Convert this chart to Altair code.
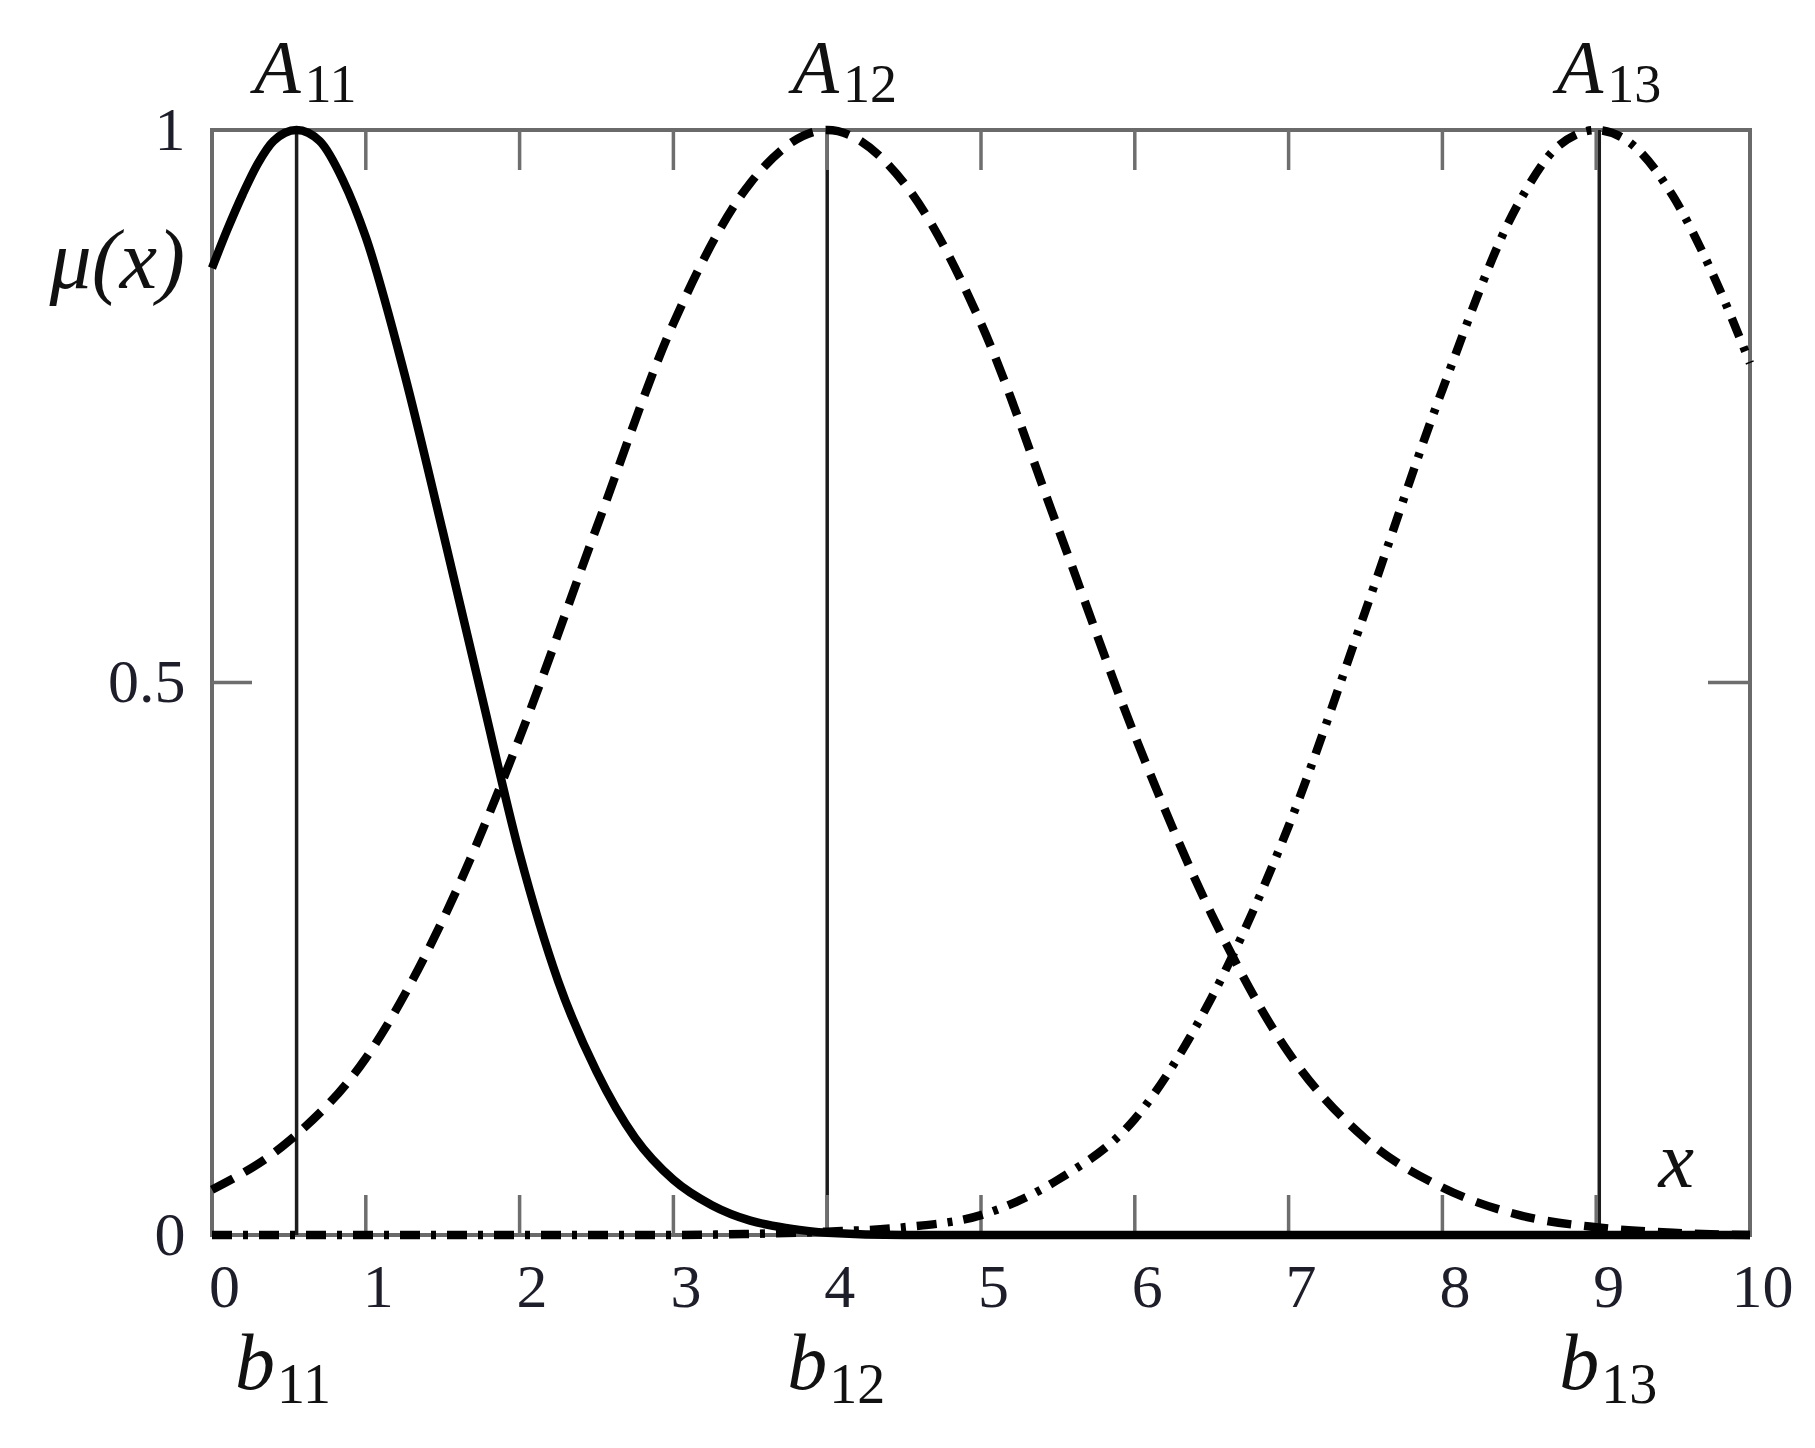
import altair as alt
import pandas as pd

# ---- data ----
a11_x = [0, 0.1, 0.2, 0.3, 0.4, 0.55, 0.7, 0.85, 1.0, 1.25, 1.5, 1.75, 2.0, 2.25, 2.5, 2.75, 3.0,
         3.25, 3.5, 3.75, 4.0, 4.5, 5, 6, 7, 8, 9, 10]
a11_mu = [0.875, 0.91, 0.942, 0.97, 0.99, 1.0, 0.99, 0.955, 0.903, 0.78, 0.637, 0.49, 0.345, 0.23, 0.148,
          0.088, 0.05, 0.027, 0.013, 0.006, 0.002, 0.0, 0, 0, 0, 0, 0, 0]

a12_x = [0, 0.5, 1.0, 1.5, 2.0, 2.5, 3.0, 3.5, 4.0, 4.5, 5.0, 5.5, 6.0, 6.5, 7.0, 7.5, 8.0, 8.5, 9.0,
         9.5, 10]
a12_mu = [0.041, 0.085, 0.16, 0.285, 0.45, 0.64, 0.825, 0.952, 1.0, 0.952, 0.825, 0.64, 0.452, 0.29,
          0.165, 0.087, 0.043, 0.018, 0.007, 0.002, 0.0]

a13_x = [0, 1, 2, 3, 3.5, 4.0, 4.5, 5.0, 5.5, 6.0, 6.5, 7.0, 7.5, 8.0, 8.5, 8.75, 9.0, 9.25, 9.5,
         9.75, 10]
a13_mu = [0, 0, 0, 0, 0.001, 0.003, 0.007, 0.018, 0.05, 0.105, 0.215, 0.37, 0.565, 0.765, 0.935, 0.985,
          1.0, 0.985, 0.94, 0.872, 0.789]

centers = [0.55, 4.0, 9.02]
top_label_x = [0.55, 4.05, 9.02]
bottom_label_x = [0.41, 4.0, 9.02]
set_names = ["A", "A", "A"]
set_subs = ["11", "12", "13"]
center_names = ["b", "b", "b"]
x_ticks = list(range(11))
inner_x_ticks = [1, 2, 3, 4, 5, 6, 7, 8, 9]
y_ticks = [0, 0.5, 1]
inner_y_ticks = [0.5]

W, H = 1538, 1105
SERIF = "Liberation Serif, Times New Roman, Times, serif"

xs = alt.Scale(domain=[0, 10], nice=False, zero=False)
ys = alt.Scale(domain=[0, 1], nice=False, zero=False)

xax = alt.Axis(values=x_ticks, labelFontSize=62, labelFont=SERIF, labelColor="#1e1e2a", tickSize=0,
               domain=False, grid=False, labelPadding=22, labelOffset=12, title=None, labelFlush=False,
               labelOverlap=False)
yax = alt.Axis(values=y_ticks, format="~g", labelFontSize=62, labelFont=SERIF, labelColor="#1e1e2a",
               tickSize=0, domain=False, grid=False, labelPadding=27, title=None, labelFlush=False,
               labelOverlap=False)

def curve(xv, yv, dash):
    df = pd.DataFrame({"x": xv, "mu": yv})
    kw = dict(color="black", strokeWidth=8.5, interpolate="monotone", clip=False)
    if dash:
        kw["strokeDash"] = dash
    return alt.Chart(df).mark_line(**kw).encode(
        x=alt.X("x:Q", scale=xs, axis=xax), y=alt.Y("mu:Q", scale=ys, axis=yax))

df_c = pd.DataFrame({"x": centers, "tx": top_label_x, "bx": bottom_label_x, "main": set_names,
                     "sub": set_subs, "bm": center_names, "top": [1, 1, 1], "bot": [0, 0, 0]})

vlines = alt.Chart(df_c).mark_rule(color="#1c1c1c", strokeWidth=3.5).encode(
    x=alt.X("x:Q", scale=xs, axis=xax))

df_xt = pd.DataFrame({"x": inner_x_ticks})
ticks_bottom = alt.Chart(df_xt).mark_rule(color="#6e6e6e", strokeWidth=3.5).encode(
    x=alt.X("x:Q", scale=xs, axis=xax), y=alt.value(H), y2=alt.value(H - 40))
ticks_top = alt.Chart(df_xt).mark_rule(color="#6e6e6e", strokeWidth=3.5).encode(
    x=alt.X("x:Q", scale=xs, axis=xax), y=alt.value(0), y2=alt.value(40))

df_yt = pd.DataFrame({"mu": inner_y_ticks})
ticks_left = alt.Chart(df_yt).mark_rule(color="#6e6e6e", strokeWidth=3.5).encode(
    y=alt.Y("mu:Q", scale=ys, axis=yax), x=alt.value(0), x2=alt.value(40))
ticks_right = alt.Chart(df_yt).mark_rule(color="#6e6e6e", strokeWidth=3.5).encode(
    y=alt.Y("mu:Q", scale=ys, axis=yax), x=alt.value(W), x2=alt.value(W - 42))

enc_top = dict(x=alt.X("tx:Q", scale=xs, axis=xax), y=alt.Y("top:Q", scale=ys, axis=yax))
enc_bot = dict(x=alt.X("bx:Q", scale=xs, axis=xax), y=alt.Y("bot:Q", scale=ys, axis=yax))

a_main = alt.Chart(df_c).mark_text(font=SERIF, fontStyle="italic", fontSize=76, align="right",
                                   baseline="alphabetic", dx=4, dy=-37, color="#111").encode(
    text="main:N", **enc_top)
a_sub = alt.Chart(df_c).mark_text(font=SERIF, fontSize=54, align="left", baseline="alphabetic",
                                  dx=8, dy=-28, color="#111").encode(text="sub:N", **enc_top)
b_main = alt.Chart(df_c).mark_text(font=SERIF, fontStyle="italic", fontSize=80, align="right",
                                   baseline="alphabetic", dx=0, dy=154, color="#111").encode(
    text="bm:N", **enc_bot)
b_sub = alt.Chart(df_c).mark_text(font=SERIF, fontSize=56, align="left", baseline="alphabetic",
                                  dx=2, dy=168, color="#111").encode(text="sub:N", **enc_bot)

df_mu = pd.DataFrame({"x": [0], "mu": [0.857], "t": ["μ(x)"]})
mu_lab = alt.Chart(df_mu).mark_text(font=SERIF, fontStyle="italic", fontSize=84, align="right",
                                    baseline="alphabetic", dx=-27, color="#111").encode(
    x=alt.X("x:Q", scale=xs, axis=xax), y=alt.Y("mu:Q", scale=ys, axis=yax), text="t:N")
df_xl = pd.DataFrame({"x": [9.52], "mu": [0.0434], "t": ["x"]})
x_lab = alt.Chart(df_xl).mark_text(font=SERIF, fontStyle="italic", fontSize=80, align="center",
                                   baseline="alphabetic", color="#111").encode(
    x=alt.X("x:Q", scale=xs, axis=xax), y=alt.Y("mu:Q", scale=ys, axis=yax), text="t:N")

chart = alt.layer(
    vlines, ticks_bottom, ticks_top, ticks_left, ticks_right,
    curve(a13_x, a13_mu, [20, 11, 5, 11]),
    curve(a12_x, a12_mu, [24, 13]),
    curve(a11_x, a11_mu, None),
    a_main, a_sub, b_main, b_sub, mu_lab, x_lab,
).properties(
    width=W, height=H,
    autosize=alt.AutoSizeParams(type="none"),
    padding={"left": 204, "top": 122, "right": 57, "bottom": 200},
    background="white",
).configure_view(stroke="#6a6a6a", strokeWidth=4)

chart.save("out.html", embed_options={"renderer": "svg", "actions": False})
